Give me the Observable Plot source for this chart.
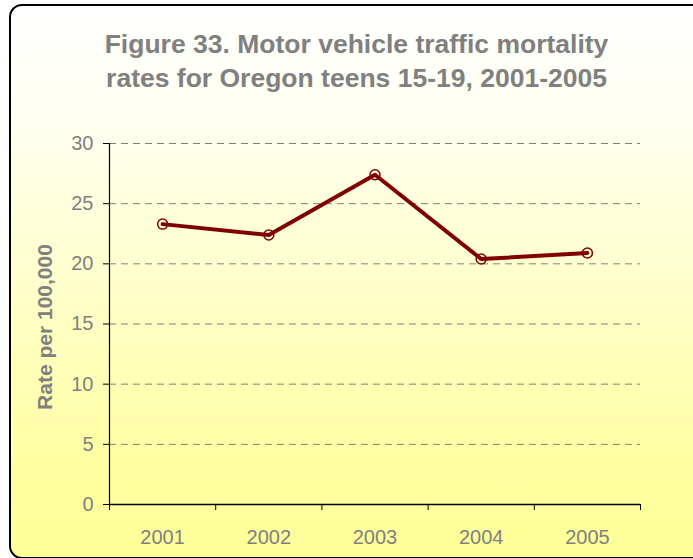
<!DOCTYPE html>
<html>
<head>
<meta charset="utf-8">
<script src="https://cdn.jsdelivr.net/npm/d3@7"></script>
<script src="https://cdn.jsdelivr.net/npm/@observablehq/plot@0.6"></script>
<style>
  html, body { margin: 0; padding: 0; width: 693px; height: 558px; overflow: hidden; background: #ffffff; }
  #frame {
    position: absolute; left: 9px; top: 4px; width: 696px; height: 551px;
    border: 2px solid #000; border-radius: 13px;
    background: linear-gradient(to bottom, #ffffff 0%, #fffff2 20%, #ffffcc 50%, #ffffa3 82%, #ffff99 100%);
  }
  #title {
    position: absolute; left: 0; top: 27px; width: 713px; text-align: center;
    font-family: "Liberation Sans", Arial, sans-serif; font-weight: bold; font-size: 26.5px;
    line-height: 34px; color: #808080;
  }
  #chart { position: absolute; left: 0; top: 120px; }
  #ylabel {
    position: absolute; left: 45px; top: 327px; transform: translate(-50%, -50%) rotate(-90deg);
    font-family: "Liberation Sans", Arial, sans-serif; font-weight: bold; font-size: 21px;
    color: #808080; white-space: nowrap;
  }
</style>
</head>
<body>
<div id="frame"></div>
<div id="title">Figure 33. Motor vehicle traffic mortality<br>rates for Oregon teens 15-19, 2001-2005</div>
<div id="chart"></div>
<div id="ylabel">Rate per 100,000</div>
<script>
const years = [2001, 2002, 2003, 2004, 2005];
const rates = [23.3, 22.4, 27.4, 20.4, 20.9];
const yTicks = [0, 5, 10, 15, 20, 25, 30];
const gridTicks = [5, 10, 15, 20, 25, 30];
const bandEdges = [2000.5, 2001.5, 2002.5, 2003.5, 2004.5, 2005.5];

const data = years.map((y, i) => ({year: y, rate: rates[i]}));
const font = "'Liberation Sans', Arial, sans-serif";

const plot = Plot.plot({
  width: 693,
  height: 438,
  marginTop: 23,
  marginBottom: 54,
  marginLeft: 109,
  marginRight: 53,
  style: {background: "transparent", fontFamily: font, fontSize: "20px", color: "#808080", overflow: "visible"},
  x: {type: "linear", domain: [2000.5, 2005.5]},
  y: {domain: [0, 30]},
  marks: [
    Plot.ruleY(gridTicks, {stroke: "#808080", strokeWidth: 1, strokeDasharray: "7,5", strokeOpacity: 1}),
    Plot.axisY(yTicks, {tickSize: 6, tickPadding: 10, stroke: "#000", strokeOpacity: 1, fill: "#808080", label: null, fontSize: 20}),
    Plot.ruleX([2000.5], {stroke: "#000", strokeWidth: 1.2}),
    Plot.ruleY([0], {stroke: "#000", strokeWidth: 1.5}),
    Plot.axisX(bandEdges, {tickSize: 6, tickFormat: () => "", stroke: "#000", strokeOpacity: 1, label: null}),
    Plot.axisX(years, {tickSize: 0, tickPadding: 25, tickFormat: d => String(d), fill: "#808080", label: null, fontSize: 20}),
    Plot.line(data, {x: "year", y: "rate", stroke: "#800000", strokeWidth: 4}),
    Plot.dot(data, {x: "year", y: "rate", r: 5, stroke: "#800000", strokeWidth: 1.5, fill: "none"})
  ]
});
document.getElementById("chart").appendChild(plot);
</script>
</body>
</html>
